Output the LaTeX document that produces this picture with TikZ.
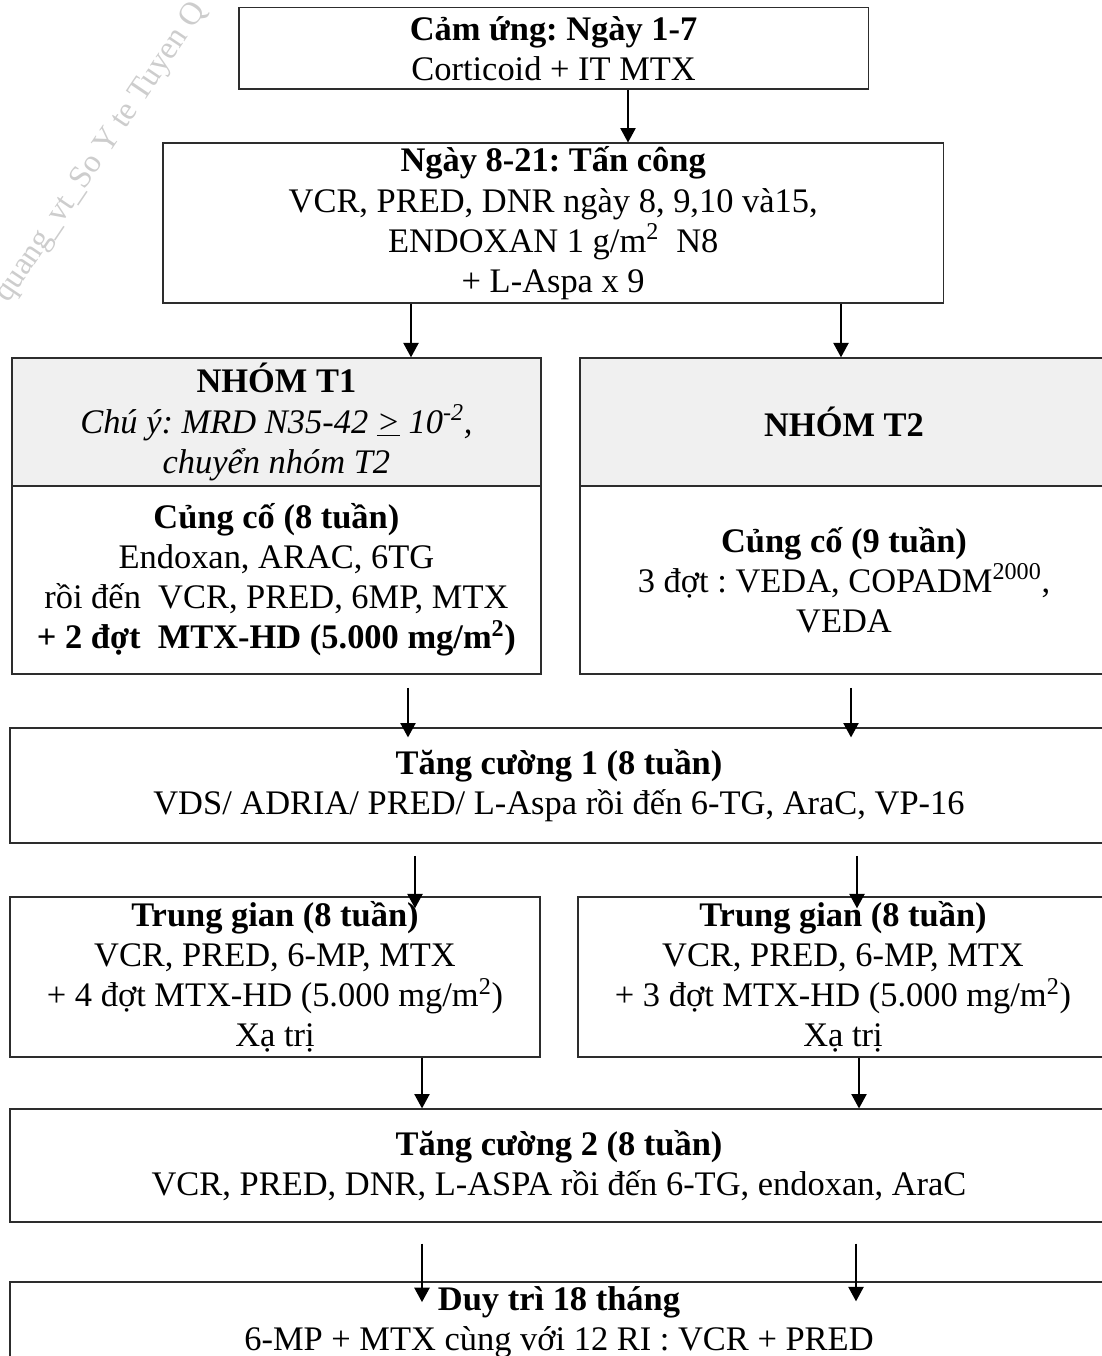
\documentclass[tikz,border=0pt]{standalone}
\usepackage{fontspec}
\setmainfont{Liberation Serif}
\usetikzlibrary{arrows.meta}
\frenchspacing

\definecolor{hdgray}{RGB}{240,240,240}
\definecolor{edge}{RGB}{45,45,45}
\definecolor{wmark}{RGB}{205,205,205}

\begin{document}
\begin{tikzpicture}[
    font=\fontsize{24.5}{28.5}\selectfont,
    box/.style={draw=edge, line width=1pt, fill=white, align=center, inner sep=0pt},
    hbox/.style={box, fill=hdgray},
    flow/.style={-{Triangle[length=0.36cm, width=0.38cm]}, line width=1.2pt}
]
\useasboundingbox (0,0) rectangle (27.55,-33.9);

% watermark
\node[rotate=56, anchor=base west, inner sep=0pt, text=wmark, font=\fontsize{23}{26}\selectfont] (wm) at (0.2,-7.6) {quang\_vt\_So Y te Tuyen Q};

\node[box, minimum width=15.73cm, minimum height=2.03cm] (induct) at (13.84,-1.21) {\textbf{Cảm ứng: Ngày 1-7}\\Corticoid + IT MTX};
\node[box, minimum width=19.5cm, minimum height=4cm] (attack) at (13.83,-5.58) {\textbf{Ngày 8-21: Tấn công}\\VCR, PRED, DNR ngày 8, 9,10 và15,\\ENDOXAN 1 g/m\textsuperscript{2}~ N8\\+ L-Aspa x 9};

% groups
\node[hbox, minimum width=13.23cm, minimum height=3.2cm] (t1head) at (6.91,-10.55) {\textbf{NHÓM T1}\\\textit{Chú ý: MRD N35-42 \underline{>} 10\textsuperscript{-2},}\\\textit{chuyển nhóm T2}};
\node[box, minimum width=13.23cm, minimum height=4.7cm] (t1body) at (6.91,-14.5) {\textbf{Củng cố (8 tuần)}\\Endoxan, ARAC, 6TG\\rồi đến~ VCR, PRED, 6MP, MTX\\\textbf{+ 2 đợt~ MTX-HD (5.000 mg/m\textsuperscript{2})}};
\node[hbox, minimum width=13.2cm, minimum height=3.2cm] (t2head) at (21.1,-10.55) {\textbf{NHÓM T2}};
\node[box, minimum width=13.2cm, minimum height=4.7cm] (t2body) at (21.1,-14.5) {\textbf{Củng cố (9 tuần)}\\3 đợt : VEDA, COPADM\textsuperscript{2000},\\VEDA};

\node[box, minimum width=27.45cm, minimum height=2.875cm] (boost1) at (13.975,-19.64) {\textbf{Tăng cường 1 (8 tuần)}\\VDS/ ADRIA/ PRED/ L-Aspa rồi đến 6-TG, AraC, VP-16};

\node[box, minimum width=13.25cm, minimum height=4cm] (mid1) at (6.875,-24.425) {\textbf{Trung gian (8 tuần)}\\VCR, PRED, 6-MP, MTX\\+ 4 đợt MTX-HD (5.000 mg/m\textsuperscript{2})\\Xạ trị};
\node[box, minimum width=13.25cm, minimum height=4cm] (mid2) at (21.075,-24.425) {\textbf{Trung gian (8 tuần)}\\VCR, PRED, 6-MP, MTX\\+ 3 đợt MTX-HD (5.000 mg/m\textsuperscript{2})\\Xạ trị};

\node[box, minimum width=27.45cm, minimum height=2.825cm] (boost2) at (13.975,-29.14) {\textbf{Tăng cường 2 (8 tuần)}\\VCR, PRED, DNR, L-ASPA rồi đến 6-TG, endoxan, AraC};
\node[box, minimum width=27.45cm, minimum height=2cm] (maint) at (13.975,-33.05) {\textbf{Duy trì 18 tháng}\\6-MP + MTX cùng với 12 RI : VCR + PRED};

% arrow columns
\coordinate (c1) at (15.7,0);
\coordinate (c2l) at (10.275,0);
\coordinate (c2r) at (21.025,0);
\coordinate (c3l) at (10.2,0);
\coordinate (c3r) at (21.275,0);
\coordinate (c4l) at (10.375,0);
\coordinate (c4r) at (21.425,0);
\coordinate (c5l) at (10.55,0);
\coordinate (c5r) at (21.475,0);
\coordinate (c6l) at (10.55,0);
\coordinate (c6r) at (21.4,0);

\draw[flow] (induct.south -| c1) -- (attack.north -| c1);
\draw[flow] (attack.south -| c2l) -- (t1head.north -| c2l);
\draw[flow] (attack.south -| c2r) -- (t2head.north -| c2r);
\draw[flow, shorten <=0.33cm, shorten >=-0.25cm] (t1body.south -| c3l) -- (boost1.north -| c3l);
\draw[flow, shorten <=0.33cm, shorten >=-0.25cm] (t2body.south -| c3r) -- (boost1.north -| c3r);
\draw[flow, shorten <=0.3cm, shorten >=-0.3cm] (boost1.south -| c4l) -- (mid1.north -| c4l);
\draw[flow, shorten <=0.3cm, shorten >=-0.3cm] (boost1.south -| c4r) -- (mid2.north -| c4r);
\draw[flow] (mid1.south -| c5l) -- (boost2.north -| c5l);
\draw[flow] (mid2.south -| c5r) -- (boost2.north -| c5r);
\draw[flow, shorten <=0.52cm, shorten >=-0.52cm] (boost2.south -| c6l) -- (maint.north -| c6l);
\draw[flow, shorten <=0.52cm, shorten >=-0.5cm] (boost2.south -| c6r) -- (maint.north -| c6r);

\end{tikzpicture}
\end{document}
